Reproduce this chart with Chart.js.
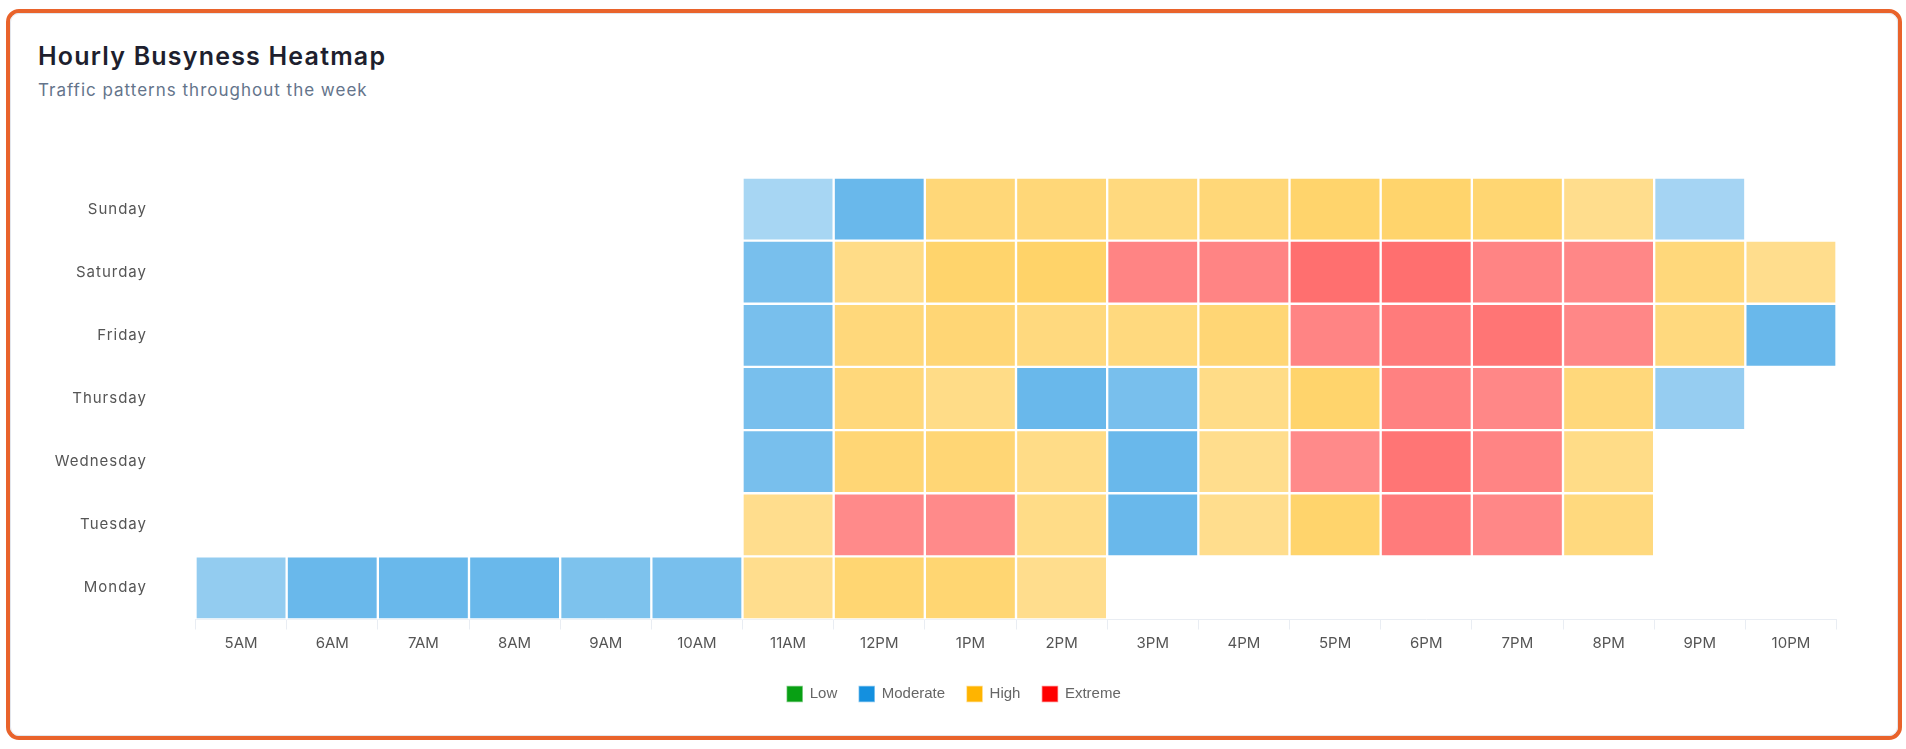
<!DOCTYPE html>
<html>
<head>
<meta charset="utf-8">
<script src="https://cdn.jsdelivr.net/npm/chart.js@4.4.1/dist/chart.umd.min.js"></script>
<style>
  html, body { margin:0; padding:0; background:#fff; width:1906px; height:749px; overflow:hidden; }
  #card { position:absolute; left:6px; top:9px; width:1896px; height:731px; box-sizing:border-box;
          border:4px solid #e9632b; border-radius:13px; background:#fff; }
  #inner { position:absolute; left:0; top:0; right:0; bottom:0; border:1px solid #e3e6ec; border-radius:9px; }
  #title { position:absolute; left:38px; top:41px; margin:0; font-family:Inter, 'Open Sans', sans-serif;
           font-weight:600; font-size:25px; line-height:30px; color:#1e1f2e; white-space:nowrap; letter-spacing:1.2px; }
  #subtitle { position:absolute; left:38px; top:80px; margin:0; font-family:Inter, 'Open Sans', sans-serif;
              font-weight:400; font-size:17px; line-height:21px; color:#64748b; white-space:nowrap; letter-spacing:1px; }
  #wrap { position:absolute; left:20px; top:110px; width:1868px; height:620px; }
</style>
</head>
<body>
<div id="card"><div id="inner"></div></div>
<h1 id="title">Hourly Busyness Heatmap</h1>
<p id="subtitle">Traffic patterns throughout the week</p>
<div id="wrap"><canvas id="chart"></canvas></div>
<script>
// ---- data ----
const hours = ['5AM','6AM','7AM','8AM','9AM','10AM','11AM','12PM','1PM','2PM','3PM','4PM','5PM','6PM','7PM','8PM','9PM','10PM'];
const days = ['Monday','Tuesday','Wednesday','Thursday','Friday','Saturday','Sunday'];
// busyness (0-100) per hour; null = no data
const monday    = [34,49,49,49,42,44,58,67,67,58,null,null,null,null,null,null,null,null];
const tuesday   = [null,null,null,null,null,null,58,84,84,60,49,58,69,89,85,63,null,null];
const wednesday = [null,null,null,null,null,null,44,66,66,60,49,58,84,91,86,60,null,null];
const thursday  = [null,null,null,null,null,null,44,64,60,49,44,60,69,87,85,64,33,null];
const friday    = [null,null,null,null,null,null,44,64,66,63,63,66,86,89,91,85,63,49];
const saturday  = [null,null,null,null,null,null,44,60,69,70,86,86,93,93,86,85,64,58];
const sunday    = [null,null,null,null,null,null,27,49,65,65,63,65,69,69,67,58,28,null];
const levelNames = ['Low','Moderate','High','Extreme'];
const levelColors = [[8,160,20],[20,144,223],[255,180,0],[255,0,0]];

const values = [monday, tuesday, wednesday, thursday, friday, saturday, sunday];

function colorFor(v) {
  if (v == null) return 'rgba(0,0,0,0)';
  const band = Math.min(3, Math.floor(v / 25));
  const a = 0.35 + 0.3 * (v - band * 25) / 25;
  const c = levelColors[band];
  return `rgba(${c[0]},${c[1]},${c[2]},${a.toFixed(3)})`;
}

const tickFont = { family: "Inter, 'Open Sans', sans-serif", size: 15 };

// widen y-axis tick labels slightly (letter spacing) to mimic the original font
const spacingPlugin = {
  id: 'labelSpacing',
  afterUpdate(chart) {
    const s = chart.scales.y;
    if (s && !s._spacingPatched) {
      const orig = s.drawLabels;
      s.drawLabels = function (ca) {
        const ctx = this.ctx;
        ctx.save();
        ctx.letterSpacing = '1px';
        orig.call(this, ca);
        ctx.restore();
      };
      s._spacingPatched = true;
    }
  }
};

new Chart(document.getElementById('chart'), {
  type: 'bar',
  plugins: [spacingPlugin],
  data: {
    labels: hours,
    datasets: days.map((d, i) => ({
      label: d,
      data: values[i].map(v => v == null ? null : [i, i + 1]),
      backgroundColor: ctx => colorFor(values[i][ctx.dataIndex]),
      borderColor: '#ffffff',
      borderWidth: 1.5,
      borderSkipped: false,
      barPercentage: 1,
      categoryPercentage: 1,
      grouped: false,
      yAxisID: 'y'
    }))
  },
  options: {
    responsive: true,
    maintainAspectRatio: false,
    animation: false,
    layout: { padding: { top: 67.5, bottom: 18.5, left: 0, right: 0 } },
    plugins: {
      tooltip: { enabled: false },
      legend: {
        position: 'bottom',
        onClick: () => {},
        labels: {
          boxWidth: 15, boxHeight: 15, padding: 22, color: '#666',
          font: { family: "'Liberation Sans', Arial, sans-serif", size: 15 },
          generateLabels: () => levelNames.map((n, k) => {
            const c = levelColors[k];
            return { text: n, fillStyle: `rgb(${c[0]},${c[1]},${c[2]})`,
                     strokeStyle: `rgba(${c[0]},${c[1]},${c[2]},0.45)`, lineWidth: 1.5,
                     hidden: false, fontColor: '#666' };
          })
        }
      }
    },
    scales: {
      x: {
        type: 'category',
        offset: true,
        grid: { offset: true, drawOnChartArea: false, drawTicks: true, tickLength: 10, color: '#e9edf3' },
        border: { display: true, color: '#e9edf3' },
        ticks: { padding: 5, font: tickFont, color: '#555', maxRotation: 0, autoSkip: false },
        afterFit: s => { s.height = 45; }
      },
      y: {
        type: 'linear',
        position: 'left',
        min: 0, max: 7,
        afterBuildTicks: s => { s.ticks = days.map((d, i) => ({ value: i + 0.5 })); },
        ticks: { callback: v => days[Math.floor(v)], padding: 48.5, font: tickFont, color: '#555', autoSkip: false },
        grid: { display: false, drawTicks: false },
        border: { display: false },
        afterFit: s => { s.width = 175.5; }
      },
      y2: {
        type: 'linear',
        position: 'right',
        display: true,
        ticks: { display: false },
        grid: { display: false, drawTicks: false },
        border: { display: false },
        afterFit: s => { s.width = 51.5; }
      }
    }
  }
});
</script>
</body>
</html>
